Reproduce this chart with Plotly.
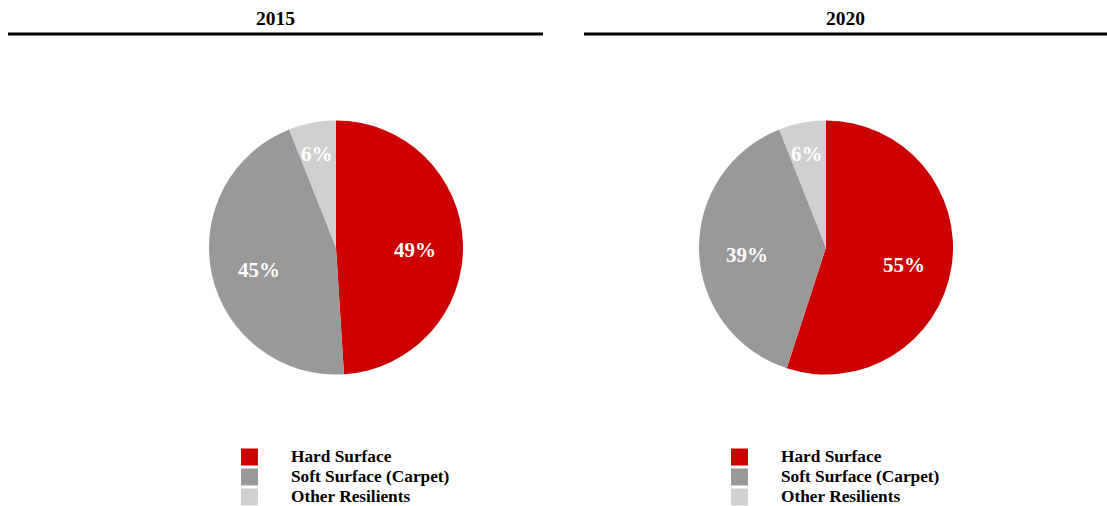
import math
import plotly.graph_objects as go

W, H = 1107, 506

categories = ["Hard Surface", "Soft Surface (Carpet)", "Other Resilients"]
years = ["2015", "2020"]
values_2015 = [49, 45, 6]
values_2020 = [55, 39, 6]
colors = ["#CC0000", "#999999", "#D0D0D0"]

FONT = "Liberation Serif, Times New Roman, serif"

fig = go.Figure()

# pie geometry (px)
centers_x = [336, 826]
center_y = 247.5
radius = 127

annotations = []
shapes = []

for cx, vals, yr in zip(centers_x, [values_2015, values_2020], years):
    fig.add_trace(go.Pie(
        labels=categories,
        values=vals,
        sort=False,
        direction="clockwise",
        rotation=0,
        marker=dict(colors=colors, line=dict(width=0)),
        textinfo="none",
        domain=dict(
            x=[(cx - radius) / W, (cx + radius) / W],
            y=[1 - (center_y + radius) / H, 1 - (center_y - radius) / H],
        ),
        showlegend=False,
        hoverinfo="label+percent",
        name=yr,
    ))
    # data labels placed along each slice's mid-angle
    total = sum(vals)
    cum = 0
    for v in vals:
        mid = (cum + v / 2) / total * 2 * math.pi
        cum += v
        rf = 0.62 if v / total >= 0.2 else 0.79
        lx = cx + math.sin(mid) * radius * rf
        ly = center_y - math.cos(mid) * radius * rf + 5
        annotations.append(dict(text="<b>%d%%</b>" % v, xref="paper", yref="paper",
                                x=lx / W, y=1 - ly / H, xanchor="center", yanchor="middle",
                                showarrow=False,
                                font=dict(family=FONT, size=21, color="white")))

# title rules and titles
rules = [(8, 543), (584, 1107)]
for (x0, x1), yr in zip(rules, years):
    shapes.append(dict(type="line", xref="paper", yref="paper",
                       x0=x0 / W, x1=x1 / W, y0=1 - 34 / H, y1=1 - 34 / H,
                       line=dict(color="black", width=3)))
    annotations.append(dict(text="<b>%s</b>" % yr, xref="paper", yref="paper",
                            x=(x0 + x1) / 2 / W, y=1 - 18 / H,
                            xanchor="center", yanchor="middle", showarrow=False,
                            font=dict(family=FONT, size=19.5, color="black")))

# custom legends
legend_left = [241, 731]
for lx in legend_left:
    for i, (cat, col) in enumerate(zip(categories, colors)):
        top = 448.5 + 20 * i
        shapes.append(dict(type="rect", xref="paper", yref="paper",
                           x0=lx / W, x1=(lx + 17) / W,
                           y0=1 - (top + 17) / H, y1=1 - top / H,
                           fillcolor=col, line=dict(width=0)))
        annotations.append(dict(text="<b>%s</b>" % cat, xref="paper", yref="paper",
                                x=(lx + 49) / W, y=1 - (top + 8) / H,
                                xanchor="left", yanchor="middle", showarrow=False,
                                borderpad=0,
                                font=dict(family=FONT, size=17.3, color="black")))

fig.update_layout(
    width=W, height=H,
    margin=dict(l=0, r=0, t=0, b=0),
    paper_bgcolor="white",
    plot_bgcolor="white",
    shapes=shapes,
    annotations=annotations,
)

fig.write_html("out.html",
               config={"displayModeBar": False},
               post_script="document.body.style.margin='0';document.body.style.overflow='hidden';")
